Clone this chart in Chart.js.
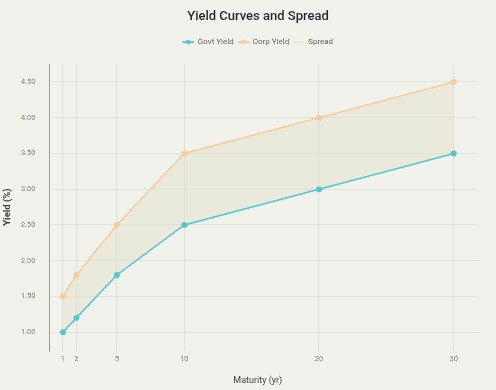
<!DOCTYPE html>
<html>
<head>
<meta charset="utf-8">
<script src="https://cdn.jsdelivr.net/npm/chart.js@4/dist/chart.umd.min.js"></script>
<style>
    html, body { margin: 0; padding: 0; background: #f2f2ed; }
    #wrap { width: 496px; height: 390px; }
</style>
</head>
<body>
<div id="wrap"><canvas id="myChart" width="496" height="390"></canvas></div>
<script>
const maturities = [1, 2, 5, 10, 20, 30];
const govtYield = [1.0, 1.2, 1.8, 2.5, 3.0, 3.5];
const corpYield = [1.5, 1.8, 2.5, 3.5, 4.0, 4.5];
const yTicks = [1.0, 1.5, 2.0, 2.5, 3.0, 3.5, 4.0, 4.5];

const teal = 'rgb(80, 200, 202)';
const peach = 'rgb(250, 202, 150)';
const spreadFill = 'rgba(222, 222, 190, 0.35)';
const fontFamily = 'Roboto, "Liberation Sans", Arial, sans-serif';

function toPoints(values) {
    return maturities.map((m, i) => ({ x: m, y: values[i] }));
}

// small legend icon: line with a dot in the middle
function legendIcon(color, withDot) {
    const c = document.createElement('canvas');
    c.width = 11;
    c.height = 6;
    const g = c.getContext('2d');
    g.strokeStyle = color;
    g.lineWidth = 2;
    g.beginPath();
    g.moveTo(0, 3);
    g.lineTo(11, 3);
    g.stroke();
    if (withDot) {
        g.fillStyle = color;
        g.beginPath();
        g.arc(5.5, 3, 2.2, 0, Math.PI * 2);
        g.fill();
    }
    return c;
}

// title, legend and x title sit a little right of the plot centre
const shiftHeader = {
    id: 'shiftHeader',
    afterLayout(chart) {
        if (chart.titleBlock) chart.titleBlock.left += 36;
        if (chart.legend) chart.legend.left += 36;
        chart.scales.x.left -= 12;
    },
};

const ctx = document.getElementById('myChart').getContext('2d');
const chart = new Chart(ctx, {
    type: 'line',
    plugins: [shiftHeader],
    data: {
        datasets: [{
            label: 'Govt Yield',
            data: toPoints(govtYield),
            borderColor: teal,
            backgroundColor: teal,
            borderWidth: 1.5,
            pointRadius: 2.2,
            fill: false,
            order: 1,
        }, {
            label: 'Corp Yield',
            data: toPoints(corpYield),
            borderColor: peach,
            backgroundColor: peach,
            borderWidth: 1.5,
            pointRadius: 2.2,
            fill: false,
            order: 2,
        }, {
            label: 'Spread',
            data: toPoints(corpYield),
            borderColor: 'rgba(0,0,0,0)',
            backgroundColor: spreadFill,
            borderWidth: 0,
            pointRadius: 0,
            fill: 0,
            order: 3,
        }],
    },
    options: {
        responsive: false,
        animation: false,
        layout: { padding: { left: 2, right: 18, top: 0, bottom: 0 } },
        plugins: {
            title: {
                display: true,
                text: 'Yield Curves and Spread',
                color: '#1e2b33',
                font: { family: fontFamily, size: 13, weight: '500', lineHeight: 1.2 },
                padding: { top: 9, bottom: 9.5 },
            },
            // empty spacer between legend and plot
            subtitle: {
                display: true,
                text: ' ',
                weight: 500,
                font: { size: 8, lineHeight: 1 },
                padding: 0,
            },
            legend: {
                labels: {
                    usePointStyle: true,
                    pointStyleWidth: 11,
                    color: '#666',
                    font: { family: fontFamily, size: 8 },
                    padding: 4,
                    generateLabels(c) {
                        const icons = [legendIcon(teal, true), legendIcon(peach, true), legendIcon('rgba(228,228,205,0.9)', false)];
                        return c.data.datasets.map((ds, i) => ({
                            text: ds.label,
                            pointStyle: icons[i],
                            fillStyle: ds.backgroundColor,
                            strokeStyle: ds.borderColor,
                            lineWidth: 0,
                            fontColor: '#666',
                            datasetIndex: i,
                            hidden: false,
                        }));
                    },
                },
            },
            tooltip: { enabled: false },
        },
        scales: {
            x: {
                type: 'linear',
                min: 0,
                max: 31.8,
                afterBuildTicks(axis) {
                    axis.ticks = maturities.map(v => ({ value: v }));
                },
                afterFit(axis) {
                    axis.height = 40;
                },
                grid: { color: 'rgba(0,0,0,0.07)', drawTicks: false },
                border: { display: false },
                ticks: { color: '#888', font: { family: fontFamily, size: 7.5 }, padding: 5 },
                title: {
                    display: true,
                    text: 'Maturity (yr)',
                    color: '#444',
                    font: { family: fontFamily, size: 9, lineHeight: 1.2 },
                    padding: { top: 10, bottom: 3.5 },
                },
            },
            y: {
                min: 0.75,
                max: 4.75,
                afterBuildTicks(axis) {
                    axis.ticks = yTicks.map(v => ({ value: v }));
                },
                afterFit(axis) {
                    axis.width = 47.5;
                },
                grid: { color: 'rgba(0,0,0,0.07)', drawTicks: false },
                border: { display: true, color: '#9a9a9a', width: 1 },
                ticks: {
                    color: '#888',
                    font: { family: fontFamily, size: 7.5 },
                    padding: 14,
                    callback: v => v.toFixed(2),
                },
                title: {
                    display: true,
                    text: 'Yield (%)',
                    color: '#444',
                    font: { family: fontFamily, size: 9.5, weight: 'bold', lineHeight: 1.2 },
                    padding: { top: 0, bottom: 6 },
                },
            },
        },
    },
});
</script>
</body>
</html>
